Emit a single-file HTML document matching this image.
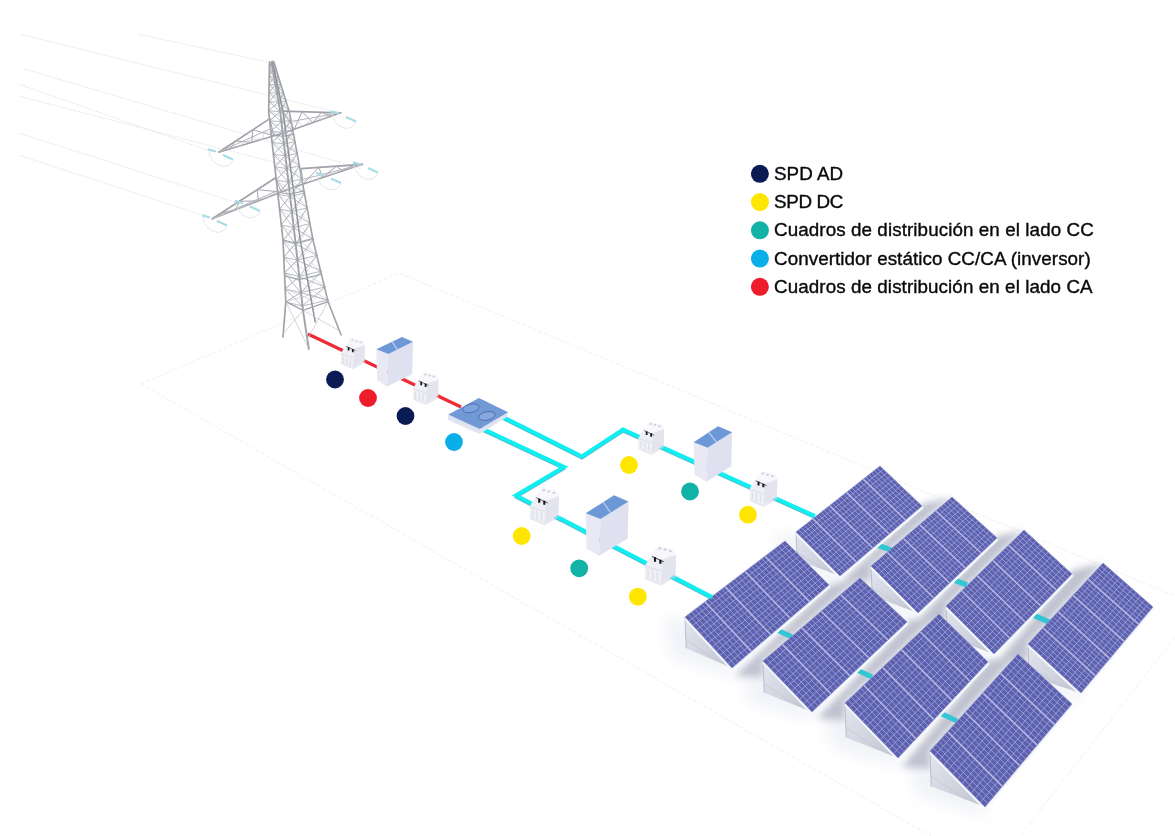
<!DOCTYPE html>
<html><head><meta charset="utf-8"><title>Diagram</title>
<style>html,body{margin:0;padding:0;background:#fff;width:1175px;height:836px;overflow:hidden;font-family:"Liberation Sans",sans-serif}svg{display:block}</style>
</head><body>
<svg width="1175" height="836" viewBox="0 0 1175 836"><g stroke="#eeeef2" stroke-width="0.9" fill="none" stroke-dasharray="4 2">
<polyline points="141,384 399,273 1175,596"/>
<polyline points="141,384 931,836"/>
<polyline points="1175,637 1020,836"/>
</g>
<g stroke="#eaeaef" stroke-width="1" fill="none" stroke-dasharray="3 1">
<line x1="139.5" y1="34.5" x2="268.4" y2="62.1"/>
<line x1="21" y1="34.5" x2="340" y2="113"/>
<line x1="23.7" y1="68.7" x2="362" y2="169"/>
<line x1="19.7" y1="84.5" x2="208" y2="150.3"/>
<line x1="19.7" y1="96.3" x2="300" y2="169"/>
<line x1="19.7" y1="133.2" x2="240" y2="204"/>
<line x1="19.7" y1="155.5" x2="205.3" y2="216"/>
</g>
<defs><filter id="blur4" x="-30%" y="-30%" width="160%" height="160%"><feGaussianBlur stdDeviation="5"/></filter><filter id="blur3" x="-30%" y="-30%" width="160%" height="160%"><feGaussianBlur stdDeviation="3.5"/></filter><filter id="blur1"><feGaussianBlur stdDeviation="0.6"/></filter></defs>
<filter id="blur10" x="-50%" y="-50%" width="200%" height="200%"><feGaussianBlur stdDeviation="7"/></filter>
<g filter="url(#blur10)" fill="#e4e7f1" opacity="0.5">
<polygon points="774,536 782,570 842,586 840,576 796,532"/>
<polygon points="849,570 857,605.9 920,623 918,613 871,566"/>
<polygon points="924,610 932,646.5 996,664 994,654 946,606"/>
<polygon points="1006,648 1014,686.5 1083,703 1081,693 1028,644"/>
<polygon points="663,621 671,658.2 734,678 732,668 685,617"/>
<polygon points="741,665 749,702.8 814,722 812,712 763,661"/>
<polygon points="823,707 831,747.4 900,768 898,758 845,703"/>
<polygon points="908,755 916,796.3 987,817 985,807 930,751"/>
</g>
<g filter="url(#blur3)">
<polygon points="796,546 796,532 880,466 850,473 768,546" fill="#bcbfcc" opacity="0.0"/>
<polygon points="871,581 871,566 952,497 922,504 843,580.5" fill="#bcbfcc" opacity="0.95"/>
<polygon points="946,621.3 946,606 1024,530 994,537 918,620.6" fill="#bcbfcc" opacity="0.95"/>
<polygon points="1028,660.2 1028,644 1103,563 1073,570 1000,659.1" fill="#bcbfcc" opacity="0.95"/>
<polygon points="685,632.6 685,617 785,541 755,548 657,631.8" fill="#bcbfcc" opacity="0.0"/>
<polygon points="763,676.9 763,661 860,578 830,585 735,676" fill="#bcbfcc" opacity="0.95"/>
<polygon points="845,720.2 845,703 939,614 909,621 817,718.6" fill="#bcbfcc" opacity="0.95"/>
<polygon points="930,768.7 930,751 1018,654 988,661 902,766.8" fill="#bcbfcc" opacity="0.95"/>
</g>
<defs><linearGradient id="sideg" x1="0" y1="0" x2="1" y2="1"><stop offset="0" stop-color="#e2e4ee"/><stop offset="0.5" stop-color="#d3d6e1"/><stop offset="1" stop-color="#c0c3d0"/></linearGradient></defs>
<polygon points="796,532 797.2,560 840,576" fill="url(#sideg)"/>
<polyline points="796,532 797.2,560" fill="none" stroke="#b6b9c4" stroke-width="0.9"/>
<polyline points="797.2,552.2 820.7,567.2 840,576" fill="none" stroke="#c4c6d0" stroke-width="0.8"/>
<polygon points="871,566 872.2,595.9 918,613" fill="url(#sideg)"/>
<polyline points="871,566 872.2,595.9" fill="none" stroke="#b6b9c4" stroke-width="0.9"/>
<polyline points="872.2,587.5 897.4,603.6 918,613" fill="none" stroke="#c4c6d0" stroke-width="0.8"/>
<polygon points="946,606 947.2,636.5 994,654" fill="url(#sideg)"/>
<polyline points="946,606 947.2,636.5" fill="none" stroke="#b6b9c4" stroke-width="0.9"/>
<polyline points="947.2,628 972.9,644.4 994,654" fill="none" stroke="#c4c6d0" stroke-width="0.8"/>
<polygon points="1028,644 1029.2,676.5 1081,693" fill="url(#sideg)"/>
<polyline points="1028,644 1029.2,676.5" fill="none" stroke="#b6b9c4" stroke-width="0.9"/>
<polyline points="1029.2,667.4 1057.7,683.9 1081,693" fill="none" stroke="#c4c6d0" stroke-width="0.8"/>
<polygon points="685,617 686.2,648.2 732,668" fill="url(#sideg)"/>
<polyline points="685,617 686.2,648.2" fill="none" stroke="#b6b9c4" stroke-width="0.9"/>
<polyline points="686.2,639.5 711.4,657.1 732,668" fill="none" stroke="#c4c6d0" stroke-width="0.8"/>
<polygon points="763,661 764.2,692.8 812,712" fill="url(#sideg)"/>
<polyline points="763,661 764.2,692.8" fill="none" stroke="#b6b9c4" stroke-width="0.9"/>
<polyline points="764.2,683.9 790.5,701.5 812,712" fill="none" stroke="#c4c6d0" stroke-width="0.8"/>
<polygon points="845,703 846.2,737.4 898,758" fill="url(#sideg)"/>
<polyline points="845,703 846.2,737.4" fill="none" stroke="#b6b9c4" stroke-width="0.9"/>
<polyline points="846.2,727.7 874.7,746.7 898,758" fill="none" stroke="#c4c6d0" stroke-width="0.8"/>
<polygon points="930,751 931.2,786.3 985,807" fill="url(#sideg)"/>
<polyline points="930,751 931.2,786.3" fill="none" stroke="#b6b9c4" stroke-width="0.9"/>
<polyline points="931.2,776.4 960.8,795.6 985,807" fill="none" stroke="#c4c6d0" stroke-width="0.8"/>
<g stroke="#30c6d4" stroke-width="5.2" stroke-linecap="butt">
<line x1="877" y1="545" x2="891" y2="550"/>
<line x1="954" y1="580" x2="967" y2="585"/>
<line x1="1033" y1="615" x2="1049" y2="622"/>
<line x1="777" y1="630" x2="792" y2="637"/>
<line x1="857" y1="670" x2="872" y2="677"/>
<line x1="940" y1="713" x2="957" y2="721"/>
</g>
<polyline points="796.3,533.2 840.3,577.4 922.6,507" fill="none" stroke="#f6f7fb" stroke-width="3"/>
<polygon points="796,532 880,466 922,506 840,576" fill="#5d61ad"/>
<path d="M798.8 529.8L842.7 573.7M801.6 527.6L845.5 571.3M804.4 525.4L848.2 569M807.2 523.2L850.9 566.7M810 521L853.7 564.3M815.6 516.6L859.1 559.7M818.4 514.4L861.9 557.3M821.2 512.2L864.6 555M824 510L867.3 552.7M826.8 507.8L870.1 550.3M832.4 503.4L875.5 545.7M835.2 501.2L878.3 543.3M838 499L881 541M840.8 496.8L883.7 538.7M843.6 494.6L886.5 536.3M849.2 490.2L891.9 531.7M852 488L894.7 529.3M854.8 485.8L897.4 527M857.6 483.6L900.1 524.7M860.4 481.4L902.9 522.3M866 477L908.3 517.7M868.8 474.8L911.1 515.3M871.6 472.6L913.8 513M874.4 470.4L916.5 510.7M877.2 468.2L919.3 508.3M799.7 535.7L883.5 469.3M803.3 539.3L887 472.7M807 543L890.5 476M810.7 546.7L894 479.3M814.3 550.3L897.5 482.7M818 554L901 486M821.7 557.7L904.5 489.3M825.3 561.3L908 492.7M829 565L911.5 496M832.7 568.7L915 499.3M836.3 572.3L918.5 502.7" stroke="#aeb3ea" stroke-width="0.85" opacity="0.8" fill="none"/>
<path d="M812.8 518.8L856.4 562M829.6 505.6L872.8 548M846.4 492.4L889.2 534M863.2 479.2L905.6 520" stroke="#b3b7e6" stroke-width="1.6" fill="none"/>
<polygon points="796,532 880,466 922,506 840,576" fill="none" stroke="#8f95d6" stroke-width="0.8"/>
<polyline points="871.3,567.2 918.3,614.4 997.6,539" fill="none" stroke="#f6f7fb" stroke-width="3"/>
<polygon points="871,566 952,497 997,538 918,613" fill="#5d61ad"/>
<path d="M873.7 563.7L920.6 610.5M876.4 561.4L923.3 608M879.1 559.1L925.9 605.5M881.8 556.8L928.5 603M884.5 554.5L931.2 600.5M889.9 549.9L936.4 595.5M892.6 547.6L939.1 593M895.3 545.3L941.7 590.5M898 543L944.3 588M900.7 540.7L947 585.5M906.1 536.1L952.2 580.5M908.8 533.8L954.9 578M911.5 531.5L957.5 575.5M914.2 529.2L960.1 573M916.9 526.9L962.8 570.5M922.3 522.3L968 565.5M925 520L970.7 563M927.7 517.7L973.3 560.5M930.4 515.4L975.9 558M933.1 513.1L978.6 555.5M938.5 508.5L983.8 550.5M941.2 506.2L986.5 548M943.9 503.9L989.1 545.5M946.6 501.6L991.7 543M949.3 499.3L994.4 540.5M874.9 569.9L955.8 500.4M878.8 573.8L959.5 503.8M882.8 577.8L963.2 507.2M886.7 581.7L967 510.7M890.6 585.6L970.8 514.1M894.5 589.5L974.5 517.5M898.4 593.4L978.2 520.9M902.3 597.3L982 524.3M906.2 601.2L985.8 527.8M910.2 605.2L989.5 531.2M914.1 609.1L993.2 534.6" stroke="#aeb3ea" stroke-width="0.85" opacity="0.8" fill="none"/>
<path d="M887.2 552.2L933.8 598M903.4 538.4L949.6 583M919.6 524.6L965.4 568M935.8 510.8L981.2 553" stroke="#b3b7e6" stroke-width="1.6" fill="none"/>
<polygon points="871,566 952,497 997,538 918,613" fill="none" stroke="#8f95d6" stroke-width="0.8"/>
<polyline points="946.3,607.2 994.3,655.4 1072.6,575" fill="none" stroke="#f6f7fb" stroke-width="3"/>
<polygon points="946,606 1024,530 1072,574 994,654" fill="#5d61ad"/>
<path d="M948.6 603.5L996.6 651.3M951.2 600.9L999.2 648.7M953.8 598.4L1001.8 646M956.4 595.9L1004.4 643.3M959 593.3L1007 640.7M964.2 588.3L1012.2 635.3M966.8 585.7L1014.8 632.7M969.4 583.2L1017.4 630M972 580.7L1020 627.3M974.6 578.1L1022.6 624.7M979.8 573.1L1027.8 619.3M982.4 570.5L1030.4 616.7M985 568L1033 614M987.6 565.5L1035.6 611.3M990.2 562.9L1038.2 608.7M995.4 557.9L1043.4 603.3M998 555.3L1046 600.7M1000.6 552.8L1048.6 598M1003.2 550.3L1051.2 595.3M1005.8 547.7L1053.8 592.7M1011 542.7L1059 587.3M1013.6 540.1L1061.6 584.7M1016.2 537.6L1064.2 582M1018.8 535.1L1066.8 579.3M1021.4 532.5L1069.4 576.7M950 610L1028 533.7M954 614L1032 537.3M958 618L1036 541M962 622L1040 544.7M966 626L1044 548.3M970 630L1048 552M974 634L1052 555.7M978 638L1056 559.3M982 642L1060 563M986 646L1064 566.7M990 650L1068 570.3" stroke="#aeb3ea" stroke-width="0.85" opacity="0.8" fill="none"/>
<path d="M961.6 590.8L1009.6 638M977.2 575.6L1025.2 622M992.8 560.4L1040.8 606M1008.4 545.2L1056.4 590" stroke="#b3b7e6" stroke-width="1.6" fill="none"/>
<polygon points="946,606 1024,530 1072,574 994,654" fill="none" stroke="#8f95d6" stroke-width="0.8"/>
<polyline points="1028.3,645.2 1081.3,694.4 1153.6,608" fill="none" stroke="#f6f7fb" stroke-width="3"/>
<polygon points="1028,644 1103,563 1153,607 1081,693" fill="#5d61ad"/>
<path d="M1030.5 641.3L1083.4 690.1M1033 638.6L1085.8 687.3M1035.5 635.9L1088.2 684.4M1038 633.2L1090.6 681.5M1040.5 630.5L1093 678.7M1045.5 625.1L1097.8 672.9M1048 622.4L1100.2 670.1M1050.5 619.7L1102.6 667.2M1053 617L1105 664.3M1055.5 614.3L1107.4 661.5M1060.5 608.9L1112.2 655.7M1063 606.2L1114.6 652.9M1065.5 603.5L1117 650M1068 600.8L1119.4 647.1M1070.5 598.1L1121.8 644.3M1075.5 592.7L1126.6 638.5M1078 590L1129 635.7M1080.5 587.3L1131.4 632.8M1083 584.6L1133.8 629.9M1085.5 581.9L1136.2 627.1M1090.5 576.5L1141 621.3M1093 573.8L1143.4 618.5M1095.5 571.1L1145.8 615.6M1098 568.4L1148.2 612.7M1100.5 565.7L1150.6 609.9M1032.4 648.1L1107.2 566.7M1036.8 652.2L1111.3 570.3M1041.2 656.2L1115.5 574M1045.7 660.3L1119.7 577.7M1050.1 664.4L1123.8 581.3M1054.5 668.5L1128 585M1058.9 672.6L1132.2 588.7M1063.3 676.7L1136.3 592.3M1067.8 680.8L1140.5 596M1072.2 684.8L1144.7 599.7M1076.6 688.9L1148.8 603.3" stroke="#aeb3ea" stroke-width="0.85" opacity="0.8" fill="none"/>
<path d="M1043 627.8L1095.4 675.8M1058 611.6L1109.8 658.6M1073 595.4L1124.2 641.4M1088 579.2L1138.6 624.2" stroke="#b3b7e6" stroke-width="1.6" fill="none"/>
<polygon points="1028,644 1103,563 1153,607 1081,693" fill="none" stroke="#8f95d6" stroke-width="0.8"/>
<polyline points="685.3,618.2 732.3,669.4 829.6,586" fill="none" stroke="#f6f7fb" stroke-width="3"/>
<polygon points="685,617 785,541 829,585 732,668" fill="#5d61ad"/>
<path d="M688.3 614.5L735.2 665.2M691.7 611.9L738.5 662.5M695 609.4L741.7 659.7M698.3 606.9L744.9 656.9M701.7 604.3L748.2 654.2M708.3 599.3L754.6 648.6M711.7 596.7L757.9 645.9M715 594.2L761.1 643.1M718.3 591.7L764.3 640.3M721.7 589.1L767.6 637.6M728.3 584.1L774 632M731.7 581.5L777.3 629.3M735 579L780.5 626.5M738.3 576.5L783.7 623.7M741.7 573.9L787 621M748.3 568.9L793.4 615.4M751.7 566.3L796.7 612.7M755 563.8L799.9 609.9M758.3 561.3L803.1 607.1M761.7 558.7L806.4 604.4M768.3 553.7L812.8 598.8M771.7 551.1L816.1 596.1M775 548.6L819.3 593.3M778.3 546.1L822.5 590.5M781.7 543.5L825.8 587.8M688.9 621.2L788.7 544.7M692.8 625.5L792.3 548.3M696.8 629.8L796 552M700.7 634L799.7 555.7M704.6 638.2L803.3 559.3M708.5 642.5L807 563M712.4 646.8L810.7 566.7M716.3 651L814.3 570.3M720.2 655.2L818 574M724.2 659.5L821.7 577.7M728.1 663.8L825.3 581.3" stroke="#aeb3ea" stroke-width="0.85" opacity="0.8" fill="none"/>
<path d="M705 601.8L751.4 651.4M725 586.6L770.8 634.8M745 571.4L790.2 618.2M765 556.2L809.6 601.6" stroke="#b3b7e6" stroke-width="1.6" fill="none"/>
<polygon points="685,617 785,541 829,585 732,668" fill="none" stroke="#8f95d6" stroke-width="0.8"/>
<polyline points="763.3,662.2 812.3,713.4 907.6,623" fill="none" stroke="#f6f7fb" stroke-width="3"/>
<polygon points="763,661 860,578 907,622 812,712" fill="#5d61ad"/>
<path d="M766.2 658.2L815.2 709M769.5 655.5L818.3 706M772.7 652.7L821.5 703M775.9 649.9L824.7 700M779.2 647.2L827.8 697M785.6 641.6L834.2 691M788.9 638.9L837.3 688M792.1 636.1L840.5 685M795.3 633.3L843.7 682M798.6 630.6L846.8 679M805 625L853.2 673M808.3 622.3L856.3 670M811.5 619.5L859.5 667M814.7 616.7L862.7 664M818 614L865.8 661M824.4 608.4L872.2 655M827.7 605.7L875.3 652M830.9 602.9L878.5 649M834.1 600.1L881.7 646M837.4 597.4L884.8 643M843.8 591.8L891.2 637M847.1 589.1L894.3 634M850.3 586.3L897.5 631M853.5 583.5L900.7 628M856.8 580.8L903.8 625M767.1 665.2L863.9 581.7M771.2 669.5L867.8 585.3M775.2 673.8L871.8 589M779.3 678L875.7 592.7M783.4 682.2L879.6 596.3M787.5 686.5L883.5 600M791.6 690.8L887.4 603.7M795.7 695L891.3 607.3M799.8 699.2L895.2 611M803.8 703.5L899.2 614.7M807.9 707.8L903.1 618.3" stroke="#aeb3ea" stroke-width="0.85" opacity="0.8" fill="none"/>
<path d="M782.4 644.4L831 694M801.8 627.8L850 676M821.2 611.2L869 658M840.6 594.6L888 640" stroke="#b3b7e6" stroke-width="1.6" fill="none"/>
<polygon points="763,661 860,578 907,622 812,712" fill="none" stroke="#8f95d6" stroke-width="0.8"/>
<polyline points="845.3,704.2 898.3,759.4 988.6,663" fill="none" stroke="#f6f7fb" stroke-width="3"/>
<polygon points="845,703 939,614 988,662 898,758" fill="#5d61ad"/>
<path d="M848.1 700L901 754.8M851.3 697.1L904 751.6M854.4 694.1L907 748.4M857.5 691.1L910 745.2M860.7 688.2L913 742M866.9 682.2L919 735.6M870.1 679.3L922 732.4M873.2 676.3L925 729.2M876.3 673.3L928 726M879.5 670.4L931 722.8M885.7 664.4L937 716.4M888.9 661.5L940 713.2M892 658.5L943 710M895.1 655.5L946 706.8M898.3 652.6L949 703.6M904.5 646.6L955 697.2M907.7 643.7L958 694M910.8 640.7L961 690.8M913.9 637.7L964 687.6M917.1 634.8L967 684.4M923.3 628.8L973 678M926.5 625.9L976 674.8M929.6 622.9L979 671.6M932.7 619.9L982 668.4M935.9 617L985 665.2M849.4 707.6L943.1 618M853.8 712.2L947.2 622M858.2 716.8L951.2 626M862.7 721.3L955.3 630M867.1 725.9L959.4 634M871.5 730.5L963.5 638M875.9 735.1L967.6 642M880.3 739.7L971.7 646M884.8 744.2L975.8 650M889.2 748.8L979.8 654M893.6 753.4L983.9 658" stroke="#aeb3ea" stroke-width="0.85" opacity="0.8" fill="none"/>
<path d="M863.8 685.2L916 738.8M882.6 667.4L934 719.6M901.4 649.6L952 700.4M920.2 631.8L970 681.2" stroke="#b3b7e6" stroke-width="1.6" fill="none"/>
<polygon points="845,703 939,614 988,662 898,758" fill="none" stroke="#8f95d6" stroke-width="0.8"/>
<polyline points="930.3,752.2 985.3,808.4 1072.6,705" fill="none" stroke="#f6f7fb" stroke-width="3"/>
<polygon points="930,751 1018,654 1072,704 985,807" fill="#5d61ad"/>
<path d="M932.9 747.8L987.9 803.6M935.9 744.5L990.8 800.1M938.8 741.3L993.7 796.7M941.7 738.1L996.6 793.3M944.7 734.8L999.5 789.8M950.5 728.4L1005.3 783M953.5 725.1L1008.2 779.5M956.4 721.9L1011.1 776.1M959.3 718.7L1014 772.7M962.3 715.4L1016.9 769.2M968.1 709L1022.7 762.4M971.1 705.7L1025.6 758.9M974 702.5L1028.5 755.5M976.9 699.3L1031.4 752.1M979.9 696L1034.3 748.6M985.7 689.6L1040.1 741.8M988.7 686.3L1043 738.3M991.6 683.1L1045.9 734.9M994.5 679.9L1048.8 731.5M997.5 676.6L1051.7 728M1003.3 670.2L1057.5 721.2M1006.3 666.9L1060.4 717.7M1009.2 663.7L1063.3 714.3M1012.1 660.5L1066.2 710.9M1015.1 657.2L1069.1 707.4M934.6 755.7L1022.5 658.2M939.2 760.3L1027 662.3M943.8 765L1031.5 666.5M948.3 769.7L1036 670.7M952.9 774.3L1040.5 674.8M957.5 779L1045 679M962.1 783.7L1049.5 683.2M966.7 788.3L1054 687.3M971.2 793L1058.5 691.5M975.8 797.7L1063 695.7M980.4 802.3L1067.5 699.8" stroke="#aeb3ea" stroke-width="0.85" opacity="0.8" fill="none"/>
<path d="M947.6 731.6L1002.4 786.4M965.2 712.2L1019.8 765.8M982.8 692.8L1037.2 745.2M1000.4 673.4L1054.6 724.6" stroke="#b3b7e6" stroke-width="1.6" fill="none"/>
<polygon points="930,751 1018,654 1072,704 985,807" fill="none" stroke="#8f95d6" stroke-width="0.8"/>
<g fill="none" stroke-linejoin="miter" stroke-linecap="butt">
<polyline points="308,334 461,407" stroke="#ee2a36" stroke-width="3.2"/>
<polyline points="503,419.2 582,458.7 623,431.7 815,518.2" stroke="#2aaebf" stroke-width="2" opacity="0.8"/>
<polyline points="503,417 582,456.5 623,429.5 815,516" stroke="#10eef2" stroke-width="4.0"/>
<polyline points="481,430.2 564,469.2 516,497.7 712,599.2" stroke="#2aaebf" stroke-width="2" opacity="0.8"/>
<polyline points="481,428 564,467 516,495.5 712,597" stroke="#10eef2" stroke-width="4.0"/>
</g>
<g stroke="#9fa2a9" fill="none" stroke-linecap="round">
<path d="M269.5 62L274 67M272.5 60L269.4 69M272.5 62L276 67M273.8 60L274 69M269.4 69L275.5 74.4M274 67L269.3 76.4M274 69L278.3 74.4M276 67L275.5 76.4M269.3 76.4L277.2 82.3M275.5 74.4L269.1 84.3M275.5 76.4L280.7 82.3M278.3 74.4L277.2 84.3M269.1 84.3L278.9 90.6M277.2 82.3L269 92.6M277.2 84.3L283.3 90.6M280.7 82.3L278.9 92.6M269 92.6L280.8 99.5M278.9 90.6L268.9 101.5M278.9 92.6L286.1 99.5M283.3 90.6L280.8 101.5M268.9 101.5L282.8 108.8M280.8 99.5L268.7 110.8M280.8 101.5L289 108.8M286.1 99.5L282.8 110.8M268.7 110.8L284.2 118.8M282.8 108.8L269.7 120.8M282.8 110.8L291 118.8M289 108.8L284.2 120.8M269.7 120.8L285.6 129.3M284.2 118.8L270.9 131.3M284.2 120.8L293 129.3M291 118.8L285.6 131.3M270.9 131.3L287.1 140.4M285.6 129.3L272.1 142.4M285.6 131.3L295 140.4M293 129.3L287.1 142.4M272.1 142.4L288.7 152.3M287.1 140.4L273.4 154.3M287.1 142.4L297.2 152.3M295 140.4L288.7 154.3M273.4 154.3L290.4 164.8M288.7 152.3L274.8 166.8M288.7 154.3L299.5 164.8M297.2 152.3L290.4 166.8M274.8 166.8L292.1 178.1M290.4 164.8L276.3 180.1M290.4 166.8L302 178.1M299.5 164.8L292.1 180.1M276.3 180.1L294 192.2M292.1 178.1L277.9 194.2M292.1 180.1L304.6 192.2M302 178.1L294 194.2M277.9 194.2L296 207.1M294 192.2L279.5 209.1M294 194.2L307.3 207.1M304.6 192.2L296 209.1M279.5 209.1L298.2 222.9M296 207.1L281.3 224.9M296 209.1L310.2 222.9M307.3 207.1L298.2 224.9M281.3 224.9L300.4 238.9M298.2 222.9L283 240.9M298.2 224.9L313.2 238.9M310.2 222.9L300.4 240.9M283 240.9L303.3 254.9M300.4 238.9L283.8 256.9M300.4 240.9L317.1 254.9M313.2 238.9L303.3 256.9M283.8 256.9L306.2 270.9M303.3 254.9L284.5 272.9M303.3 256.9L321.1 270.9M317.1 254.9L306.2 272.9M284.5 272.9L309.2 286.9M306.2 270.9L285.2 288.9M306.2 272.9L325 286.9M321.1 270.9L309.2 288.9M285.2 288.9L311.6 300M309.2 286.9L285.8 302M309.2 288.9L328.2 300M325 286.9L311.6 302" stroke="#cdd0d5" stroke-width="0.7"/>
<path d="M269.5 62L272.7 69.1M271.5 62L269.4 69M269.4 69L272.7 69.1M271.5 62L276 68.9M273.8 62L272.7 69.1M272.7 69.1L276 68.9M269.4 69L274.1 76.7M272.7 69.1L269.3 76.4M269.3 76.4L274.1 76.7M272.7 69.1L278.3 76.3M276 68.9L274.1 76.7M274.1 76.7L278.3 76.3M269.3 76.4L275.4 84.7M274.1 76.7L269.1 84.3M269.1 84.3L275.4 84.7M274.1 76.7L280.7 84.1M278.3 76.3L275.4 84.7M275.4 84.7L280.7 84.1M269.1 84.3L276.9 93.1M275.4 84.7L269 92.6M269 92.6L276.9 93.1M275.4 84.7L283.3 92.4M280.7 84.1L276.9 93.1M276.9 93.1L283.3 92.4M269 92.6L278.5 102.1M276.9 93.1L268.9 101.5M268.9 101.5L278.5 102.1M276.9 93.1L286.1 101.1M283.3 92.4L278.5 102.1M278.5 102.1L286.1 101.1M268.9 101.5L280.1 111.6M278.5 102.1L268.7 110.8M268.7 110.8L280.1 111.6M278.5 102.1L289 110.4M286.1 101.1L280.1 111.6M280.1 111.6L289 110.4M268.7 110.8L281.3 121.7M280.1 111.6L269.7 120.8M269.7 120.8L281.3 121.7M280.1 111.6L291 120.3M289 110.4L281.3 121.7M281.3 121.7L291 120.3M269.7 120.8L282.5 132.4M281.3 121.7L270.9 131.3M270.9 131.3L282.5 132.4M281.3 121.7L293 130.7M291 120.3L282.5 132.4M282.5 132.4L293 130.7M270.9 131.3L283.8 143.8M282.5 132.4L272.1 142.4M272.1 142.4L283.8 143.8M282.5 132.4L295 141.8M293 130.7L283.8 143.8M283.8 143.8L295 141.8M272.1 142.4L285.2 155.8M283.8 143.8L273.4 154.3M273.4 154.3L285.2 155.8M283.8 143.8L297.2 153.5M295 141.8L285.2 155.8M285.2 155.8L297.2 153.5M273.4 154.3L286.6 168.5M285.2 155.8L274.8 166.8M274.8 166.8L286.6 168.5M285.2 155.8L299.5 165.9M297.2 153.5L286.6 168.5M286.6 168.5L299.5 165.9M274.8 166.8L288.2 182.1M286.6 168.5L276.3 180.1M276.3 180.1L288.2 182.1M286.6 168.5L302 179.1M299.5 165.9L288.2 182.1M288.2 182.1L302 179.1M276.3 180.1L289.8 196.4M288.2 182.1L277.9 194.2M277.9 194.2L289.8 196.4M288.2 182.1L304.6 193.1M302 179.1L289.8 196.4M289.8 196.4L304.6 193.1M277.9 194.2L291.6 211.6M289.8 196.4L279.5 209.1M279.5 209.1L291.6 211.6M289.8 196.4L307.3 207.9M304.6 193.1L291.6 211.6M291.6 211.6L307.3 207.9M279.5 209.1L293.4 227.6M291.6 211.6L281.3 224.9M281.3 224.9L293.4 227.6M291.6 211.6L310.2 223.6M307.3 207.9L293.4 227.6M293.4 227.6L310.2 223.6M281.3 224.9L295.3 243.9M293.4 227.6L283 240.9M283 240.9L295.3 243.9M293.4 227.6L313.2 239.4M310.2 223.6L295.3 243.9M295.3 243.9L313.2 239.4M283 240.9L297.1 260.2M295.3 243.9L283.8 256.9M283.8 256.9L297.1 260.2M295.3 243.9L317.1 255.3M313.2 239.4L297.1 260.2M297.1 260.2L317.1 255.3M283.8 256.9L298.9 276.4M297.1 260.2L284.5 272.9M284.5 272.9L298.9 276.4M297.1 260.2L321.1 271.2M317.1 255.3L298.9 276.4M298.9 276.4L321.1 271.2M284.5 272.9L300.6 292.7M298.9 276.4L285.2 288.9M285.2 288.9L300.6 292.7M298.9 276.4L325 287M321.1 271.2L300.6 292.7M300.6 292.7L325 287M285.2 288.9L302.1 306M300.6 292.7L285.8 302M285.8 302L302.1 306M300.6 292.7L328.2 300M325 287L302.1 306M302.1 306L328.2 300" stroke="#abaeb5" stroke-width="0.85"/>
<polyline points="272.5,62 283,112 300.2,240 315.2,321.8" stroke-width="1.5" stroke="#8e9199"/>
<polyline points="269.5,62 268.7,112 283,240 285.8,301.7 283,337" stroke-width="1.7" stroke="#9fa2a9"/>
<polyline points="271.5,62 280,110 295.2,240 303,310.3 308.8,349" stroke-width="1.9" stroke="#9fa2a9"/>
<polyline points="273.8,62 289.5,112.4 313,240 328.1,301.7 341,334.7" stroke-width="1.6" stroke="#9fa2a9"/>
<path d="M285.8 301.7L307 345M303 310.3L284 333M303 310.3L338 330M328.1 301.7L307 340M311 294.5L285.8 301.7M311 294.5L328.1 301.7" stroke="#c3c5cb" stroke-width="0.7"/>
<polyline points="285.8,301.7 303,310.3 328.1,301.7" stroke-width="1.3"/>
<polyline points="284.6,276 299.2,279.6 321.8,274.2" stroke-width="1.1"/>
<polyline points="283,240 295.2,243 313,238.5" stroke-width="1.1"/>
<polyline points="277.6,192 289.6,194.2 304.2,190.9" stroke-width="1.1"/>
<polyline points="271.3,135 282.9,136.2 293.7,134.4" stroke-width="1.1"/>
<polyline points="269.8,118.6 218.7,152.2" stroke-width="1.7"/><polyline points="285,132.5 218.7,152.2" stroke-width="1.5"/><polyline points="272,128 218.7,152.2" stroke-width="1.0" stroke="#b3b5bb"/><polyline points="269.8,118.6 273.9,135.8 252.8,129.8 251.8,142.3 235.7,141 229.8,148.9 218.7,152.2" stroke-width="1.0" stroke="#a3a6ad"/><polyline points="285,132.5 263.1,132 262.9,139.1 245.3,140.1 240.8,145.6 227.6,148.2 218.7,152.2" stroke-width="0.6" stroke="#c2c4ca"/>
<polyline points="282.8,111.2 340.7,112.8" stroke-width="1.7"/><polyline points="285,132.5 340.7,112.8" stroke-width="1.5"/><polyline points="288,122 340.7,112.8" stroke-width="1.0" stroke="#b3b5bb"/><polyline points="282.8,111.2 294.3,129.2 302.1,111.7 312.9,122.7 321.4,112.3 331.4,116.1 340.7,112.8" stroke-width="1.0" stroke="#a3a6ad"/><polyline points="285,132.5 296.8,120.5 303.6,125.9 314.4,117.4 322.1,119.4 331.9,114.3 340.7,112.8" stroke-width="0.6" stroke="#c2c4ca"/>
<polyline points="275.3,178 212.3,218.8" stroke-width="1.7"/><polyline points="293,187.5 212.3,218.8" stroke-width="1.5"/><polyline points="279,190 212.3,218.8" stroke-width="1.0" stroke="#b3b5bb"/><polyline points="275.3,178 281.5,192 257.3,189.7 258.4,200.9 239.3,201.3 235.4,209.9 221.3,213 212.3,218.8" stroke-width="1.0" stroke="#a3a6ad"/><polyline points="293,187.5 269.5,194.1 269.9,196.4 250.4,202.3 246.9,205.4 231.4,210.6 223.8,214.3 212.3,218.8" stroke-width="0.6" stroke="#c2c4ca"/>
<polyline points="301.3,168.7 362.5,164.3" stroke-width="1.7"/><polyline points="293,187.5 362.5,164.3" stroke-width="1.5"/><polyline points="300,180 362.5,164.3" stroke-width="1.0" stroke="#b3b5bb"/><polyline points="301.3,168.7 302.9,184.2 318.8,167.4 322.8,177.6 336.3,166.2 342.6,170.9 353.8,164.9 362.5,164.3" stroke-width="1.0" stroke="#a3a6ad"/><polyline points="293,187.5 308.9,177.8 312.9,180.9 326.8,173.3 332.7,174.2 344.6,168.8 352.6,167.6 362.5,164.3" stroke-width="0.6" stroke="#c2c4ca"/>
</g>
<g stroke="#a9dce6" stroke-width="2.3" stroke-linecap="butt">
<line x1="208" y1="149.3" x2="216" y2="151.5"/>
<line x1="223" y1="155" x2="233" y2="159.5"/>
<line x1="331" y1="111.3" x2="339" y2="113.5"/>
<line x1="346" y1="117" x2="356" y2="121.5"/>
<line x1="202" y1="215.3" x2="210" y2="217.5"/>
<line x1="217" y1="221" x2="227" y2="225.5"/>
<line x1="353" y1="162.3" x2="361" y2="164.5"/>
<line x1="368" y1="168" x2="378" y2="172.5"/>
<line x1="235" y1="200.8" x2="243" y2="203"/>
<line x1="250" y1="206.5" x2="260" y2="211"/>
<line x1="316" y1="172.8" x2="324" y2="175"/>
<line x1="331" y1="178.5" x2="341" y2="183"/>
</g>
<path d="M209 151.5 C211 165.5 227 171.5 233 160.5M332 113.5 C334 127.5 350 133.5 356 122.5M203 217.5 C205 231.5 221 237.5 227 226.5M354 164.5 C356 178.5 372 184.5 378 173.5M236 203 C238 217 254 223 260 212M317 175 C319 189 335 195 341 184" stroke="#dfe2e8" stroke-width="0.9" fill="none"/>
<polygon points="340.8,361.6 353.2,367.3 364.6,360.2 365.5,362.1 353.2,369.2 340.8,364" fill="#d3d5e1" opacity="0.55" filter="url(#blur1)"/><polygon points="340.8,353.5 345.6,345.5 350.9,338.3 362.7,340.7 365,345 364.6,360.2 353.2,367.3 340.8,362.1" fill="#eff0f6"/><polygon points="354.1,348.8 365,345 364.6,360.2 353.2,367.3" fill="#e3e4ee"/><polygon points="345.6,345.5 350.9,338.3 362.7,340.7 365,345 354.1,348.8" fill="#f8f8fc"/><path d="M346.21500000000003 346.42499999999995L355.52500000000003 350.7" stroke="#3a3a42" stroke-width="0.7" fill="none"/><path d="M348.59000000000003 347.185L348.59000000000003 350.51M352.77 348.98999999999995L352.77 352.125" stroke="#16161c" stroke-width="1.7" fill="none"/><line x1="340.8" y1="354.025" x2="353.15000000000003" y2="357.825" stroke="#d3d4de" stroke-width="0.7"/><line x1="343.175" y1="356.4" x2="343.175" y2="363.04999999999995" stroke="#d4d5df" stroke-width="0.8"/><line x1="346.785" y1="357.53999999999996" x2="346.785" y2="364.38" stroke="#d4d5df" stroke-width="0.8"/><line x1="350.395" y1="358.67999999999995" x2="350.395" y2="365.71" stroke="#d4d5df" stroke-width="0.8"/><ellipse cx="352.4" cy="340.2" rx="1.3" ry="0.9" fill="#d0d1db"/><ellipse cx="356.5" cy="341.3" rx="1.3" ry="0.9" fill="#d0d1db"/><ellipse cx="360.6" cy="342.3" rx="1.3" ry="0.9" fill="#d0d1db"/>
<polygon points="376.3,349.3 388.5,354 387,386.5 377.1,380.2" fill="#e8e9f5"/><polygon points="388.5,354 413,341.8 412.2,374.3 387,386.5" fill="#e0e1f0"/><polygon points="376.3,349.3 402,337 413,341.8 388.5,354" fill="#6c98d8"/><line x1="392.2" y1="341.7" x2="397.3" y2="349.6" stroke="#c4d4f2" stroke-width="1.3" opacity="0.9"/>
<polygon points="413,396.9 426,402.9 438,395.4 439,397.4 426,404.9 413,399.4" fill="#d3d5e1" opacity="0.55" filter="url(#blur1)"/><polygon points="413,388.4 418,379.9 423.6,372.4 436,374.9 438.5,379.4 438,395.4 426,402.9 413,397.4" fill="#eff0f6"/><polygon points="427,383.4 438.5,379.4 438,395.4 426,402.9" fill="#e3e4ee"/><polygon points="418,379.9 423.6,372.4 436,374.9 438.5,379.4 427,383.4" fill="#f8f8fc"/><path d="M418.7 380.9L428.5 385.4" stroke="#3a3a42" stroke-width="0.7" fill="none"/><path d="M421.2 381.7L421.2 385.2M425.6 383.59999999999997L425.6 386.9" stroke="#16161c" stroke-width="1.8" fill="none"/><line x1="413.0" y1="388.9" x2="426.0" y2="392.9" stroke="#d3d4de" stroke-width="0.7"/><line x1="415.5" y1="391.4" x2="415.5" y2="398.4" stroke="#d4d5df" stroke-width="0.8"/><line x1="419.3" y1="392.59999999999997" x2="419.3" y2="399.79999999999995" stroke="#d4d5df" stroke-width="0.8"/><line x1="423.1" y1="393.79999999999995" x2="423.1" y2="401.2" stroke="#d4d5df" stroke-width="0.8"/><ellipse cx="425.2" cy="374.4" rx="1.4" ry="1" fill="#d0d1db"/><ellipse cx="429.5" cy="375.5" rx="1.4" ry="1" fill="#d0d1db"/><ellipse cx="433.8" cy="376.6" rx="1.4" ry="1" fill="#d0d1db"/>
<polygon points="638.4,446.8 651.5,452.8 663.6,445.2 664.7,447.3 651.5,454.8 638.4,449.3" fill="#d3d5e1" opacity="0.55" filter="url(#blur1)"/><polygon points="638.4,438.2 643.4,429.6 649.1,422 661.6,424.5 664.2,429.1 663.6,445.2 651.5,452.8 638.4,447.3" fill="#eff0f6"/><polygon points="652.5,433.1 664.2,429.1 663.6,445.2 651.5,452.8" fill="#e3e4ee"/><polygon points="643.4,429.6 649.1,422 661.6,424.5 664.2,429.1 652.5,433.1" fill="#f8f8fc"/><path d="M644.1569999999999 430.595L654.055 435.14" stroke="#3a3a42" stroke-width="0.7" fill="none"/><path d="M646.682 431.403L646.682 434.938M651.126 433.322L651.126 436.655" stroke="#16161c" stroke-width="1.8" fill="none"/><line x1="638.4" y1="438.675" x2="651.53" y2="442.715" stroke="#d3d4de" stroke-width="0.7"/><line x1="640.925" y1="441.2" x2="640.925" y2="448.27" stroke="#d4d5df" stroke-width="0.8"/><line x1="644.7629999999999" y1="442.412" x2="644.7629999999999" y2="449.68399999999997" stroke="#d4d5df" stroke-width="0.8"/><line x1="648.601" y1="443.624" x2="648.601" y2="451.098" stroke="#d4d5df" stroke-width="0.8"/><ellipse cx="650.7" cy="424" rx="1.4" ry="1" fill="#d0d1db"/><ellipse cx="655.1" cy="425.1" rx="1.4" ry="1" fill="#d0d1db"/><ellipse cx="659.4" cy="426.3" rx="1.4" ry="1" fill="#d0d1db"/>
<polygon points="693.7,442.2 707.7,447.8 706.2,481.8 694.5,474.5" fill="#e8e9f5"/><polygon points="707.7,447.8 732.1,432.3 731.3,466.3 706.2,481.8" fill="#e0e1f0"/><polygon points="693.7,442.2 718,426.2 732.1,432.3 707.7,447.8" fill="#6c98d8"/><line x1="708.8" y1="432.3" x2="716.5" y2="442.2" stroke="#c4d4f2" stroke-width="1.3" opacity="0.9"/>
<polygon points="749.6,498.2 763.8,504.7 776.9,496.6 777.9,498.7 763.8,506.9 749.6,500.9" fill="#d3d5e1" opacity="0.55" filter="url(#blur1)"/><polygon points="749.6,488.9 755.1,479.7 761.2,471.5 774.7,474.2 777.4,479.1 776.9,496.6 763.8,504.7 749.6,498.7" fill="#eff0f6"/><polygon points="764.9,483.5 777.4,479.1 776.9,496.6 763.8,504.7" fill="#e3e4ee"/><polygon points="755.1,479.7 761.2,471.5 774.7,474.2 777.4,479.1 764.9,483.5" fill="#f8f8fc"/><path d="M755.813 480.755L766.495 485.65999999999997" stroke="#3a3a42" stroke-width="0.8" fill="none"/><path d="M758.538 481.62699999999995L758.538 485.442M763.3340000000001 483.698L763.3340000000001 487.29499999999996" stroke="#16161c" stroke-width="2" fill="none"/><line x1="749.6" y1="489.47499999999997" x2="763.77" y2="493.835" stroke="#d3d4de" stroke-width="0.7"/><line x1="752.325" y1="492.2" x2="752.325" y2="499.83" stroke="#d4d5df" stroke-width="0.8"/><line x1="756.467" y1="493.508" x2="756.467" y2="501.356" stroke="#d4d5df" stroke-width="0.8"/><line x1="760.609" y1="494.816" x2="760.609" y2="502.882" stroke="#d4d5df" stroke-width="0.8"/><ellipse cx="762.9" cy="473.7" rx="1.5" ry="1.1" fill="#d0d1db"/><ellipse cx="767.6" cy="474.9" rx="1.5" ry="1.1" fill="#d0d1db"/><ellipse cx="772.3" cy="476.1" rx="1.5" ry="1.1" fill="#d0d1db"/>
<polygon points="529.8,516.1 544.8,523 558.5,514.4 559.7,516.7 544.8,525.3 529.8,519" fill="#d3d5e1" opacity="0.55" filter="url(#blur1)"/><polygon points="529.8,506.4 535.5,496.6 542,487.9 556.2,490.8 559.1,496 558.5,514.4 544.8,523 529.8,516.7" fill="#eff0f6"/><polygon points="545.9,500.6 559.1,496 558.5,514.4 544.8,523" fill="#e3e4ee"/><polygon points="535.5,496.6 542,487.9 556.2,490.8 559.1,496 545.9,500.6" fill="#f8f8fc"/><path d="M536.3549999999999 497.725L547.625 502.90000000000003" stroke="#3a3a42" stroke-width="0.8" fill="none"/><path d="M539.2299999999999 498.64500000000004L539.2299999999999 502.67M544.29 500.83L544.29 504.625" stroke="#16161c" stroke-width="2.1" fill="none"/><line x1="529.8" y1="506.925" x2="544.75" y2="511.52500000000003" stroke="#d3d4de" stroke-width="0.7"/><line x1="532.675" y1="509.8" x2="532.675" y2="517.85" stroke="#d4d5df" stroke-width="0.8"/><line x1="537.045" y1="511.18" x2="537.045" y2="519.46" stroke="#d4d5df" stroke-width="0.8"/><line x1="541.415" y1="512.5600000000001" x2="541.415" y2="521.07" stroke="#d4d5df" stroke-width="0.8"/><ellipse cx="543.8" cy="490.2" rx="1.6" ry="1.1" fill="#d0d1db"/><ellipse cx="548.8" cy="491.5" rx="1.6" ry="1.1" fill="#d0d1db"/><ellipse cx="553.7" cy="492.8" rx="1.6" ry="1.1" fill="#d0d1db"/>
<polygon points="585.7,513.2 600.5,519 599,556 586.5,548.4" fill="#e8e9f5"/><polygon points="600.5,519 628.5,501.5 627.7,538.5 599,556" fill="#e0e1f0"/><polygon points="585.7,513.2 614,495.2 628.5,501.5 600.5,519" fill="#6c98d8"/><line x1="603.2" y1="502" x2="610.6" y2="512.7" stroke="#c4d4f2" stroke-width="1.3" opacity="0.9"/>
<polygon points="645,575.9 660.9,583.2 675.5,574.1 676.7,576.5 660.9,585.7 645,579" fill="#d3d5e1" opacity="0.55" filter="url(#blur1)"/><polygon points="645,565.5 651.1,555.2 657.9,546 673.1,549.1 676.1,554.6 675.5,574.1 660.9,583.2 645,576.5" fill="#eff0f6"/><polygon points="662.1,559.4 676.1,554.6 675.5,574.1 660.9,583.2" fill="#e3e4ee"/><polygon points="651.1,555.2 657.9,546 673.1,549.1 676.1,554.6 662.1,559.4" fill="#f8f8fc"/><path d="M651.954 556.39L663.91 561.88" stroke="#3a3a42" stroke-width="0.9" fill="none"/><path d="M655.004 557.366L655.004 561.636M660.372 559.684L660.372 563.7099999999999" stroke="#16161c" stroke-width="2.2" fill="none"/><line x1="645.0" y1="566.15" x2="660.86" y2="571.03" stroke="#d3d4de" stroke-width="0.7"/><line x1="648.05" y1="569.1999999999999" x2="648.05" y2="577.74" stroke="#d4d5df" stroke-width="0.8"/><line x1="652.686" y1="570.664" x2="652.686" y2="579.448" stroke="#d4d5df" stroke-width="0.8"/><line x1="657.322" y1="572.1279999999999" x2="657.322" y2="581.156" stroke="#d4d5df" stroke-width="0.8"/><ellipse cx="659.9" cy="548.5" rx="1.7" ry="1.2" fill="#d0d1db"/><ellipse cx="665.1" cy="549.8" rx="1.7" ry="1.2" fill="#d0d1db"/><ellipse cx="670.4" cy="551.1" rx="1.7" ry="1.2" fill="#d0d1db"/>
<polygon points="448.3,414.5 479.7,429 508.1,412.2 507,417 479.5,434 447.6,419.5" fill="#dfe3f2"/>
<polygon points="448.3,414.5 479,398.1 508.1,412.2 479.7,429" fill="#7099d6"/>
<ellipse cx="470.9" cy="408.3" rx="8.3" ry="4.2" fill="#7ea2dc" stroke="#4a67a8" stroke-width="0.8" transform="rotate(-12 470.9 408.3)"/>
<ellipse cx="486.9" cy="416" rx="8.3" ry="4.2" fill="#86a8de" stroke="#4a67a8" stroke-width="0.8" transform="rotate(-12 486.9 416)"/>
<circle cx="335" cy="379.5" r="8.9" fill="#0b1c55"/>
<circle cx="368" cy="398" r="8.9" fill="#ef1c2c"/>
<circle cx="405.5" cy="416" r="8.9" fill="#0b1c55"/>
<circle cx="454" cy="442" r="8.9" fill="#0aaee8"/>
<circle cx="629" cy="465" r="8.9" fill="#ffe600"/>
<circle cx="690" cy="491.5" r="8.9" fill="#12b2a6"/>
<circle cx="748" cy="514.7" r="8.9" fill="#ffe600"/>
<circle cx="521.7" cy="536" r="8.9" fill="#ffe600"/>
<circle cx="579.2" cy="568.3" r="8.9" fill="#12b2a6"/>
<circle cx="637.9" cy="596.6" r="8.9" fill="#ffe600"/>
<circle cx="759.9" cy="173.8" r="9" fill="#0b1c55"/>
<text x="774.0" y="180" style="font-family:'Liberation Sans',sans-serif" font-size="18.8" fill="#0a0a0c" stroke="#0a0a0c" stroke-width="0.38" textLength="69.1" lengthAdjust="spacing">SPD AD</text>
<circle cx="759.9" cy="202.1" r="9" fill="#ffe600"/>
<text x="774.0" y="208.2" style="font-family:'Liberation Sans',sans-serif" font-size="18.8" fill="#0a0a0c" stroke="#0a0a0c" stroke-width="0.38" textLength="69.3" lengthAdjust="spacing">SPD DC</text>
<circle cx="759.9" cy="230.3" r="9" fill="#12b2a6"/>
<text x="774.0" y="236.4" style="font-family:'Liberation Sans',sans-serif" font-size="18.8" fill="#0a0a0c" stroke="#0a0a0c" stroke-width="0.38" textLength="319.8" lengthAdjust="spacing">Cuadros de distribución en el lado CC</text>
<circle cx="759.9" cy="258.6" r="9" fill="#0aaee8"/>
<text x="774.0" y="264.6" style="font-family:'Liberation Sans',sans-serif" font-size="18.8" fill="#0a0a0c" stroke="#0a0a0c" stroke-width="0.38" textLength="316.7" lengthAdjust="spacing">Convertidor estático CC/CA (inversor)</text>
<circle cx="759.9" cy="286.8" r="9" fill="#ef1c2c"/>
<text x="774.0" y="292.8" style="font-family:'Liberation Sans',sans-serif" font-size="18.8" fill="#0a0a0c" stroke="#0a0a0c" stroke-width="0.38" textLength="318.6" lengthAdjust="spacing">Cuadros de distribución en el lado CA</text></svg>
</body></html>
